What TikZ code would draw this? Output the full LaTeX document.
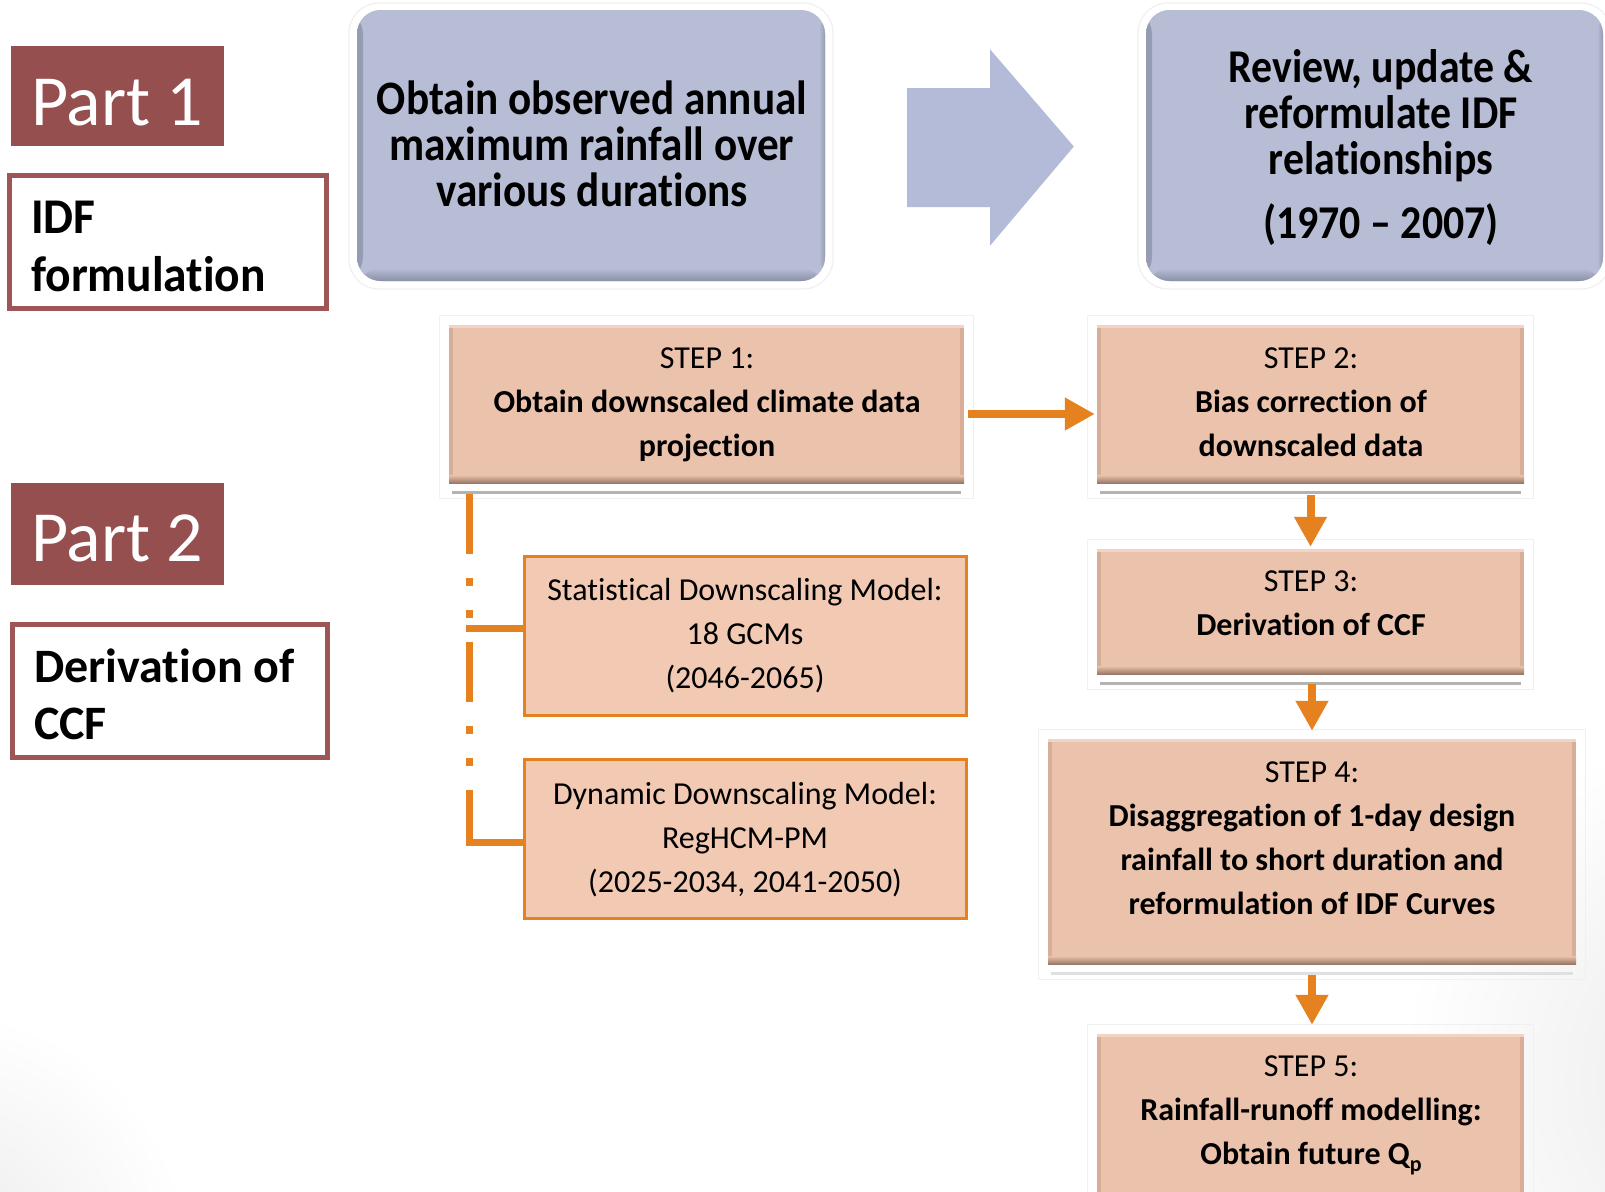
\documentclass[tikz,border=0pt]{standalone}
\usepackage{fontspec}
\setmainfont[Ligatures=NoCommon]{Carlito}
\newfontfamily\obsfont[FakeStretch=0.9,Ligatures=NoCommon]{Carlito}
\newfontfamily\revfont[FakeStretch=0.89,Ligatures=NoCommon]{Carlito}
\newfontfamily\idffont[FakeStretch=0.95,Ligatures=NoCommon]{Carlito}
\usetikzlibrary{arrows.meta,calc}

\definecolor{partred}{HTML}{954F4F}
\definecolor{partline}{HTML}{9E5555}
\definecolor{blueface}{HTML}{B8BDD6}
\definecolor{blueedge}{HTML}{8A90A8}
\definecolor{bluearrow}{HTML}{B4BBD8}
\definecolor{stepfill}{HTML}{EBC2AC}
\definecolor{stepside}{HTML}{D9AE99}
\definecolor{steplight}{HTML}{F2D4C4}
\definecolor{stepedge}{HTML}{9A7868}
\definecolor{modelfill}{HTML}{F2C9B3}
\definecolor{flow}{HTML}{E5821F}
\definecolor{mirror}{HTML}{B3B3B3}

\tikzset{
  partbox/.style={fill=partred, inner sep=0pt},
  parttext/.style={text=white, font=\fontsize{72}{80}\selectfont, inner sep=0pt, anchor=base west},
  framebox/.style={draw=partline, line width=5pt, fill=white, inner sep=0pt},
  frametext/.style={inner sep=0pt, anchor=north west, align=left},
  bluebox/.style={fill=blueface, rounded corners=24pt, inner sep=0pt, path picture={
      \shade[left color=blueedge!75!blueface, right color=blueface] (path picture bounding box.south west) rectangle ([xshift=6pt]path picture bounding box.north west);
      \shade[left color=blueface, right color=blueedge!75!blueface] ([xshift=-6pt]path picture bounding box.south east) rectangle (path picture bounding box.north east);
      \shade[top color=blueface, bottom color=blueedge] ([yshift=13pt]path picture bounding box.south west) rectangle (path picture bounding box.south east);
    }},
  bluetext/.style={inner sep=0pt, anchor=north, align=center},
  stepbox/.style={fill=stepfill, inner sep=0pt, path picture={
      \fill[stepside] (path picture bounding box.south west) rectangle ([xshift=4pt]path picture bounding box.north west);
      \fill[stepside] ([xshift=-4pt]path picture bounding box.south east) rectangle (path picture bounding box.north east);
      \fill[steplight] ([yshift=-3pt]path picture bounding box.north west) rectangle (path picture bounding box.north east);
      \shade[top color=stepfill, bottom color=stepedge] ([yshift=8pt]path picture bounding box.south west) rectangle (path picture bounding box.south east);
    }},
  steptext/.style={inner sep=0pt, anchor=north, align=center, font=\fontsize{32}{44}\selectfont},
  modelbox/.style={draw=flow, line width=3pt, fill=modelfill, inner sep=0pt},
  flowarrow/.style={draw=flow, line width=8pt, -{Triangle[length=30pt,width=31pt]}},
  trunk/.style={draw=flow, line width=7pt, dash pattern=on 60pt off 24pt on 8pt off 24pt on 8pt off 24pt},
  branch/.style={draw=flow, line width=7pt},
  mirrorline/.style={draw=mirror, line width=3pt},
  glowline/.style={draw=black!6, line width=1.2pt},
}

\begin{document}
\lineskiplimit=-40pt
\begin{tikzpicture}[x=1pt, y=-1pt]
\useasboundingbox (0,0) rectangle (1605,1191);
\fill[white] (0,0) rectangle (1605,1191);
% faint grey haze at the right edge and the lower left corner
\begin{scope}
  \clip (0,0) rectangle (1605,1191);
  \shade[inner color=black!9, outer color=white] (1760,1080) circle (360);
  \shade[inner color=black!8, outer color=white] (-60,1260) circle (250);
\end{scope}

% ---- part labels ----
\node[partbox, minimum width=213pt, minimum height=100pt] (part1) at (117.5,96) {};
\node[parttext] (part1txt) at (31,125) {Part 1};
\node[framebox, minimum width=317pt, minimum height=133pt] (idf) at (168,242) {};
\node[frametext, font=\idffont\bfseries\fontsize{50}{58}\selectfont] (idftxt) at (31,193) {\rule{0pt}{40pt}IDF\\formulation};

\node[partbox, minimum width=213pt, minimum height=102pt] (part2) at (117.5,534) {};
\node[parttext] (part2txt) at (31,561) {Part 2};
\node[framebox, minimum width=315pt, minimum height=133pt] (ccf) at (170,691) {};
\node[frametext, font=\bfseries\fontsize{48}{57}\selectfont] (ccftxt) at (34,642) {\rule{0pt}{40pt}Derivation of\\CCF};

% ---- part 1: observed data and IDF review ----
\draw[glowline, rounded corners=30pt] (349,3) rectangle (833,289);
\draw[glowline, rounded corners=30pt] (1138,3) rectangle (1611,289);
\node[bluebox, minimum width=468pt, minimum height=271pt] (obs) at (591,145.5) {};
\node[bluetext, font=\obsfont\bfseries\fontsize{48}{46}\selectfont] (obstxt) at (592,74)
  {\rule{0pt}{40pt}Obtain observed annual\\maximum rainfall over\\various durations};
\node[bluebox, minimum width=457pt, minimum height=271pt] (review) at (1374.5,145.5) {};
\node[bluetext, font=\revfont\bfseries\fontsize{47}{46}\selectfont] (reviewtxt) at (1381,42)
  {\rule{0pt}{40pt}Review, update \&\\reformulate IDF\\relationships\\[18pt](1970 – 2007)};

\coordinate (bigtail) at ([xshift=82pt,yshift=-2pt]obs.east);
\coordinate (bigtip) at ([xshift=-72pt,yshift=-1pt]review.west);
\fill[bluearrow] ($(bigtail)+(0,-59.5)$) -- ($(bigtail)+(83,-59.5)$) -- ($(bigtail)+(83,-98)$)
  -- (bigtip) -- ($(bigtail)+(83,98)$) -- ($(bigtail)+(83,59.5)$) -- ($(bigtail)+(0,59.5)$) -- cycle;

% ---- part 2: steps ----
\node[stepbox, minimum width=515pt, minimum height=158pt] (step1) at (706.5,404) {};
\node[stepbox, minimum width=427pt, minimum height=158pt] (step2) at (1310.5,404) {};
\node[stepbox, minimum width=427pt, minimum height=125pt] (step3) at (1310.5,611.5) {};
\node[stepbox, minimum width=528pt, minimum height=225pt] (step4) at (1312,851.5) {};
\node[stepbox, minimum width=427pt, minimum height=166pt] (step5) at (1310.5,1117) {};

\foreach \s in {step1,step2,step3,step4,step5}{
  \draw[glowline] ([shift={(-9pt,9pt)}]\s.north west) rectangle ([shift={(9pt,-15pt)}]\s.south east);
}
\foreach \s in {step1,step2,step3}{
  \draw[mirrorline] ([shift={(3pt,-9pt)}]\s.south west) -- ([shift={(-3pt,-9pt)}]\s.south east);
}
\draw[mirrorline, draw=black!12] ([shift={(3pt,-9pt)}]step4.south west) -- ([shift={(-3pt,-9pt)}]step4.south east);

\node[steptext] (step1txt) at (707,338) {\rule{0pt}{30pt}STEP 1:\\\textbf{Obtain downscaled climate data}\\\textbf{projection}};
\node[steptext] (step2txt) at (1311,338) {\rule{0pt}{30pt}STEP 2:\\\textbf{Bias correction of}\\\textbf{downscaled data}};
\node[steptext] (step3txt) at (1311,561) {\rule{0pt}{30pt}STEP 3:\\\textbf{Derivation of CCF}};
\node[steptext] (step4txt) at (1312,752) {\rule{0pt}{30pt}STEP 4:\\\textbf{Disaggregation of 1-day design}\\\textbf{rainfall to short duration and}\\\textbf{reformulation of IDF Curves}};
\node[steptext] (step5txt) at (1311,1046) {\rule{0pt}{30pt}STEP 5:\\\textbf{Rainfall-runoff modelling:}\\\textbf{Obtain future Q\raisebox{-7pt}{\fontsize{22}{22}\selectfont p}}};

% ---- downscaling models ----
\node[modelbox, minimum width=442pt, minimum height=159pt] (stat) at (745.5,636) {};
\node[steptext] (stattxt) at (745,570) {\rule{0pt}{30pt}Statistical Downscaling Model:\\18 GCMs\\(2046-2065)};
\node[modelbox, minimum width=442pt, minimum height=159pt] (dyn) at (745.5,839) {};
\node[steptext] (dyntxt) at (745,774) {\rule{0pt}{30pt}Dynamic Downscaling Model:\\RegHCM-PM\\(2025-2034, 2041-2050)};

% ---- connectors ----
\draw[flowarrow] ([xshift=4pt,yshift=-10pt]step1.east) -- ([xshift=-2pt,yshift=-10pt]step2.west);
\draw[flowarrow, shorten >=2pt] ([yshift=-12pt]step2.south) -- (step3.north);
\draw[flowarrow, shorten >=8pt] ([yshift=-10pt]step3.south -| step4.north) -- (step4.north);
\draw[flowarrow, shorten >=9pt] ([yshift=-11pt]step4.south) -- (step4.south |- step5.north);

\coordinate (trunktop) at ([xshift=21pt,yshift=-11pt]step1.south west);
\coordinate (trunkbot) at ($(trunktop |- dyn.west)+(0,3)$);
\draw[trunk] (trunktop) -- (trunkbot);
\draw[branch] ($(trunktop |- stat.west)+(-3.5,-8)$) -- ([yshift=8pt]stat.west);
\draw[branch] ($(trunkbot)+(-3.5,0)$) -- (dyn.west |- trunkbot);
\end{tikzpicture}
\end{document}
